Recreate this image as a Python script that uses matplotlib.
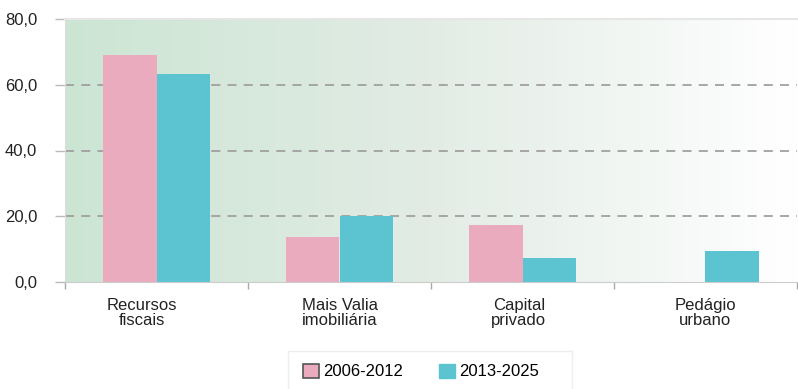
import numpy as np
import matplotlib
matplotlib.use("Agg")
import matplotlib.pyplot as plt
from matplotlib.colors import LinearSegmentedColormap
from matplotlib.patches import Patch, Rectangle

plt.rcParams['font.family'] = ['Liberation Sans', 'DejaVu Sans']

categories = ["Recursos\nfiscais", "Mais Valia\nimobiliária", "Capital\nprivado", "Pedágio\nurbano"]
series_names = ["2006-2012", "2013-2025"]
values_2006_2012 = [69.0, 13.7, 17.3, 0.0]
values_2013_2025 = [63.2, 20.0, 7.3, 9.4]
yticks = [0, 20, 40, 60, 80]
ytick_labels = ["0,0", "20,0", "40,0", "60,0", "80,0"]

PINK = "#eaabbe"
CYAN = "#5cc4d1"

W, H = 798, 389
fig = plt.figure(figsize=(W / 100, H / 100), dpi=100)
ax = fig.add_axes([65 / W, 1 - 282 / H, 732 / W, 263 / H])

n = len(categories)
x = np.arange(n)
ax.set_xlim(-0.5, n - 0.5)
ax.set_ylim(0, 80)

# green-to-white horizontal background gradient
cmap = LinearSegmentedColormap.from_list("bg", ["#cce5d3", "#e2ece5", "#ffffff"])
grad = np.linspace(0, 1, 256).reshape(1, -1)
ax.imshow(grad, cmap=cmap, aspect="auto", extent=(-0.5, n - 0.5, 0, 80),
          zorder=0, interpolation="bicubic")

# dashed gridlines
for t in yticks[1:-1]:
    ax.axhline(t, color="#a0a0a0", lw=1.3, ls=(0, (5, 4)), zorder=1)

w = 0.29
ax.bar(x - w / 2, values_2006_2012, width=w, color=PINK, zorder=2)
ax.bar(x + w / 2, values_2013_2025, width=w, color=CYAN, zorder=2)

ax.set_yticks(yticks)
ax.set_yticklabels(ytick_labels, fontsize=12, color="#222222")
ax.tick_params(axis="y", length=7, color="#bbbbbb", width=1, pad=13)

# category separators on the x axis
ax.set_xticks(np.arange(n + 1) - 0.5)
ax.set_xticklabels([])
ax.tick_params(axis="x", length=5, color="#aaaaaa", width=1, direction="out")

ax.spines["right"].set_visible(False)
ax.spines["top"].set_color("#e6e6e6")
ax.spines["top"].set_linewidth(1.5)
ax.spines["left"].set_color("#dddddd")
ax.spines["bottom"].set_color("#cccccc")

label_offsets = [-0.08, 0.0, -0.02, 0.0]
for xi, lab, off in zip(x, categories, label_offsets):
    ax.text(xi + off, -4.8, lab, ha="center", va="top", fontsize=12,
            color="#222222", linespacing=1.05)

# legend box running off the bottom edge
fig.patches.append(Rectangle((288 / W, -0.05), (572 - 288) / W, 1.05 - 351 / H,
                             transform=fig.transFigure, facecolor="white",
                             edgecolor="#eeeeee", linewidth=1.0, zorder=0))

handles = [Patch(facecolor=PINK, edgecolor="#555555", linewidth=1.2, label=series_names[0]),
           Patch(facecolor=CYAN, edgecolor=CYAN, label=series_names[1])]
leg = fig.legend(handles=handles, loc="center left",
                 bbox_to_anchor=(303 / W, 1 - 371.5 / H),
                 ncol=2, frameon=False, fontsize=12, handlelength=0.95, handleheight=0.9,
                 columnspacing=2.15, handletextpad=0.25, borderpad=0, borderaxespad=0)

fig.savefig("out.png", dpi=100)
